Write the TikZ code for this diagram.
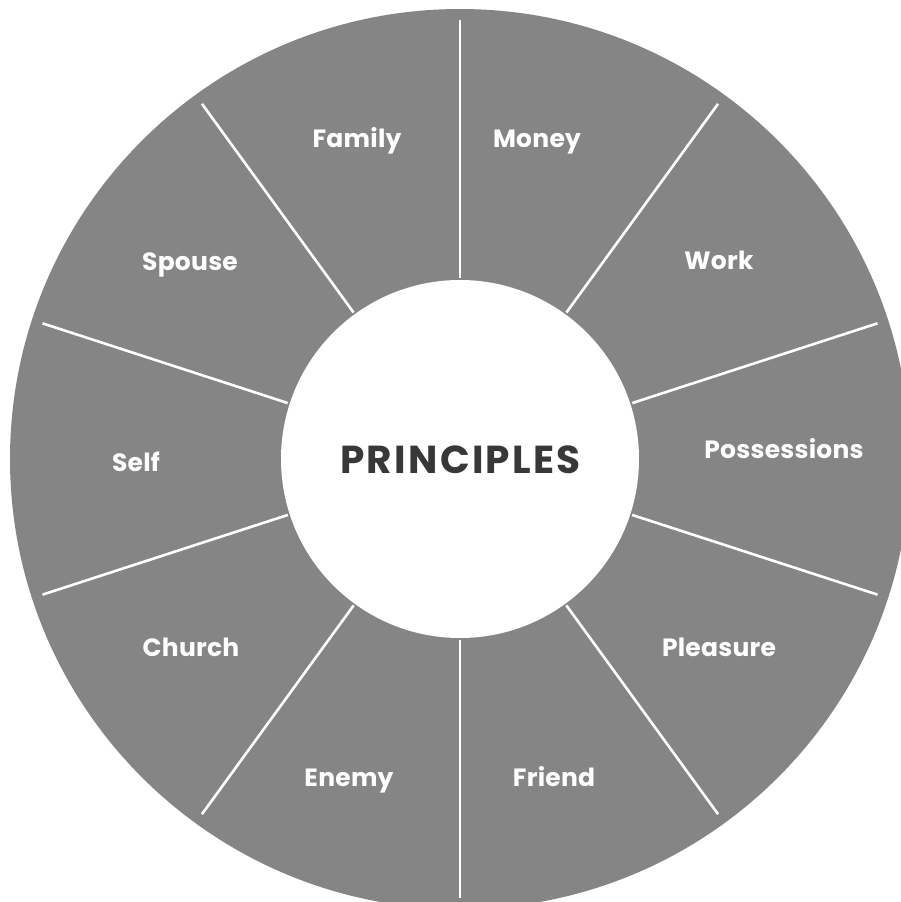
\documentclass[tikz,border=0pt]{standalone}
\usepackage{fontspec}
\setmainfont{Poppins}
\usetikzlibrary{calc}
\definecolor{wheelgrey}{HTML}{858585}
\definecolor{hubtext}{HTML}{383838}
\tikzset{
  lbl/.style={text=white, font=\fontsize{25}{25}\selectfont\bfseries\addfontfeatures{LetterSpace=1}, inner sep=0pt, anchor=base},
  spoke/.style={draw=white, line width=2.6pt},
}
\begin{document}
\begin{tikzpicture}[x=1pt,y=-1pt]
\useasboundingbox (0,0) rectangle (900,902);
\fill[white] (0,0) rectangle (900,902);
\coordinate (ctr) at (460,459);
\node[circle, fill=wheelgrey, minimum size=900pt, inner sep=0pt] (outer) at (ctr) {};
\node[circle, fill=white, minimum size=358pt, inner sep=0pt] (hub) at (ctr) {};
\node[text=hubtext, anchor=base, inner sep=0pt,
      font=\fontsize{39}{39}\selectfont\bfseries\addfontfeatures{LetterSpace=6}] (title) at (460.5,473) {PRINCIPLES};
\foreach \a [count=\i] in {90,126,162,198,234,270,306,342,18,54}{
  \coordinate (in\i) at ($(ctr)+(\a:181)$);
  \coordinate (out\i) at ($(ctr)+(\a:439)$);
  \draw[spoke] (in\i) -- (out\i);
}
\node[lbl] (family) at (357,147.5) {Family};
\node[lbl] (money) at (537,147.5) {Money};
\node[lbl] (work) at (719,269) {Work};
\node[lbl] (poss) at (784,458) {Possessions};
\node[lbl] (pleasure) at (719,656) {Pleasure};
\node[lbl] (friend) at (554,786) {Friend};
\node[lbl] (enemy) at (349,786) {Enemy};
\node[lbl] (church) at (191,656) {Church};
\node[lbl] (self) at (136,471) {Self};
\node[lbl] (spouse) at (190,270) {Spouse};
\end{tikzpicture}
\end{document}
